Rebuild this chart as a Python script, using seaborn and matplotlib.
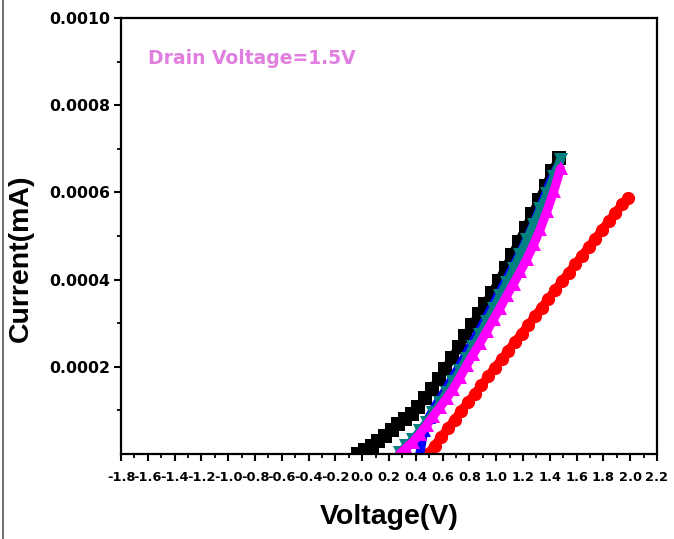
import numpy as np
import pandas as pd
import matplotlib
matplotlib.use("Agg")
import matplotlib.pyplot as plt
from matplotlib.lines import Line2D
from matplotlib.ticker import FixedLocator, FormatStrFormatter
import seaborn as sns

# ---------------- data (current in units of 1e-4 mA) ----------------
black_v = [-0.03, 0.02, 0.07, 0.12, 0.17, 0.22, 0.27, 0.32, 0.37, 0.42, 0.47, 0.52,
           0.57, 0.62, 0.67, 0.72, 0.77, 0.82, 0.87, 0.92, 0.97, 1.02, 1.07, 1.12,
           1.17, 1.22, 1.27, 1.32, 1.37, 1.42, 1.47]
black_i = [0.00, 0.09, 0.18, 0.30, 0.42, 0.55, 0.68, 0.80, 0.92, 1.07, 1.28, 1.49,
           1.71, 1.95, 2.20, 2.45, 2.70, 2.95, 3.20, 3.45, 3.70, 3.97, 4.27, 4.57,
           4.87, 5.18, 5.50, 5.83, 6.15, 6.48, 6.80]

red_v = [0.49, 0.54, 0.59, 0.64, 0.69, 0.74, 0.79, 0.84, 0.89, 0.94, 0.99, 1.04,
         1.09, 1.14, 1.19, 1.24, 1.29, 1.34, 1.39, 1.44, 1.49, 1.54, 1.59, 1.64,
         1.69, 1.74, 1.79, 1.84, 1.89, 1.94, 1.98]
red_i = [0.00, 0.19, 0.39, 0.59, 0.79, 0.99, 1.19, 1.38, 1.58, 1.78, 1.98, 2.17,
         2.37, 2.57, 2.76, 2.96, 3.16, 3.36, 3.56, 3.76, 3.96, 4.15, 4.35, 4.55,
         4.74, 4.94, 5.14, 5.34, 5.53, 5.73, 5.87]

blue_v = [0.43, 0.46, 0.50, 0.55, 0.60, 0.65, 0.70, 0.75, 0.80, 0.85, 0.90, 0.95,
          1.00, 1.05, 1.10, 1.15, 1.20, 1.25, 1.30, 1.35, 1.40, 1.45]
blue_i = [0.00, 0.55, 0.85, 1.12, 1.36, 1.62, 1.88, 2.15, 2.43, 2.70, 2.98, 3.27,
          3.56, 3.85, 4.14, 4.44, 4.75, 5.08, 5.44, 5.82, 6.22, 6.55]

teal_v = [0.28, 0.33, 0.38, 0.43, 0.48, 0.53, 0.58, 0.63, 0.68, 0.73, 0.78, 0.83,
          0.88, 0.93, 0.98, 1.03, 1.08, 1.13, 1.18, 1.23, 1.28, 1.33, 1.38, 1.43, 1.48]
teal_i = [0.03, 0.18, 0.33, 0.52, 0.72, 0.93, 1.16, 1.40, 1.65, 1.91, 2.19, 2.46,
          2.74, 3.03, 3.33, 3.63, 3.93, 4.24, 4.57, 4.90, 5.26, 5.61, 5.96, 6.35, 6.75]

mag_v = [0.28, 0.33, 0.38, 0.43, 0.48, 0.53, 0.58, 0.63, 0.68, 0.73, 0.78, 0.83,
         0.88, 0.93, 0.98, 1.03, 1.08, 1.13, 1.18, 1.23, 1.28, 1.33, 1.38, 1.43, 1.48]
mag_i = [0.00, 0.14, 0.28, 0.46, 0.66, 0.87, 1.07, 1.28, 1.50, 1.76, 2.04, 2.30,
         2.55, 2.82, 3.09, 3.36, 3.64, 3.91, 4.19, 4.48, 4.81, 5.17, 5.58, 6.03, 6.55]

x_ticks = [-1.8, -1.6, -1.4, -1.2, -1.0, -0.8, -0.6, -0.4, -0.2, 0.0, 0.2, 0.4,
           0.6, 0.8, 1.0, 1.2, 1.4, 1.6, 1.8, 2.0, 2.2]
y_ticks = [0.0002, 0.0004, 0.0006, 0.0008, 0.0010]

series = [
    ("black", black_v, black_i, "#000000", "s"),
    ("red", red_v, red_i, "#ff0000", "o"),
    ("blue", blue_v, blue_i, "#0000ff", "^"),
    ("teal", teal_v, teal_i, "#008080", "v"),
    ("magenta", mag_v, mag_i, "#ff00ff", "^"),
]

# ---------------- style ----------------
sns.set_style("ticks")
plt.rcParams["font.family"] = ["DejaVu Sans"]
plt.rcParams["axes.unicode_minus"] = False

fig = plt.figure(figsize=(6.74, 5.39), dpi=100)
ax = fig.add_axes([121 / 674, 1 - 454 / 539, (657 - 121) / 674, (454 - 18) / 539])

for name, v, i, col, mk in series:
    df = pd.DataFrame({"V": v, "I": np.array(i) * 1e-4})
    sns.lineplot(data=df, x="V", y="I", ax=ax, color=col, linewidth=6.5,
                 marker=mk, markersize=9.5, markeredgewidth=0,
                 sort=False, estimator=None, legend=False)

ax.set_xlim(-1.8, 2.2)
ax.set_ylim(0, 0.0010)

ax.xaxis.set_major_locator(FixedLocator(x_ticks))
ax.xaxis.set_major_formatter(FormatStrFormatter("%.1f"))
ax.xaxis.set_minor_locator(FixedLocator([t + 0.1 for t in x_ticks[:-1]]))
ax.yaxis.set_major_locator(FixedLocator(y_ticks))
ax.yaxis.set_major_formatter(FormatStrFormatter("%.4f"))
ax.yaxis.set_minor_locator(FixedLocator([0.0001, 0.0003, 0.0005, 0.0007, 0.0009]))

for s in ax.spines.values():
    s.set_linewidth(1.6)
    s.set_color("black")
    s.set_visible(True)

ax.tick_params(axis="both", which="major", direction="out", length=5, width=1.5,
               color="black", labelcolor="black")
ax.tick_params(axis="both", which="minor", direction="out", length=3, width=1.3,
               color="black")
ax.tick_params(axis="x", which="major", pad=7, labelsize=9.3)
ax.tick_params(axis="y", which="major", pad=2.5, labelsize=11.3)
for lab in ax.get_xticklabels() + ax.get_yticklabels():
    lab.set_fontweight("bold")

ax.set_xlabel("Voltage(V)", family=["Liberation Sans", "DejaVu Sans"],
              fontsize=20.5, fontweight="bold", color="black")
ax.set_ylabel("Current(mA)", family=["Liberation Sans", "DejaVu Sans"],
              fontsize=20.5, fontweight="bold", color="black")
ax.xaxis.set_label_coords((389 - 121) / 536, (454 - 504) / 436)
ax.yaxis.set_label_coords((34 - 121) / 536, (454 - 258) / 436)

ax.text(-1.6, 0.000906, "Drain Voltage=1.5V", color="#e07fe0", fontsize=13.5,
        fontweight="bold", ha="left", va="center")

fig.add_artist(Line2D([0.004, 0.004], [0, 1], transform=fig.transFigure,
                      color="#555555", linewidth=1.2))

fig.savefig("out.png", dpi=100, facecolor="white")
